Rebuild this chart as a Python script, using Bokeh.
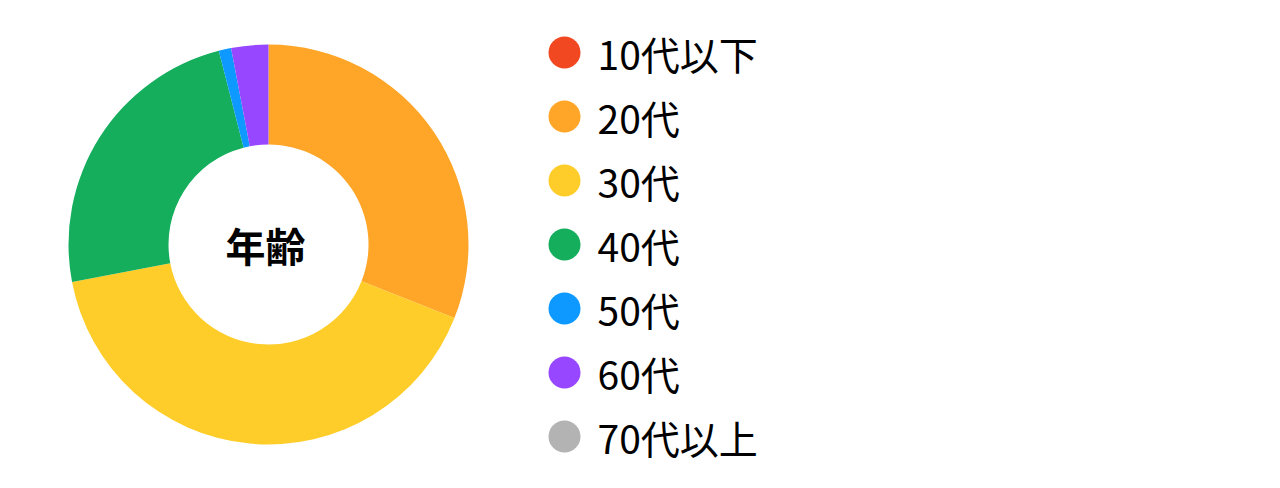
import math
from bokeh.plotting import figure
from bokeh.models import Range1d, ColumnDataSource
from bokeh.core.properties import value
from bokeh.embed import file_html
from bokeh.resources import INLINE

# ---- data ----
categories = ["10代以下", "20代", "30代", "40代", "50代", "60代", "70代以上"]
counts = [0, 31, 41, 24, 1, 3, 0]
colors = ["#F24822", "#FFA629", "#FFCD29", "#14AE5C", "#0D99FF", "#9747FF", "#B3B3B3"]
center_label = "年齢"

# ---- layout (pixels) ----
W, H = 1264, 472
FONT = "Noto Sans CJK JP"

p = figure(width=W, height=H, output_backend="svg", toolbar_location=None,
           x_range=Range1d(0, W), y_range=Range1d(488 - H, 488),
           min_border=0)
p.axis.visible = False
p.grid.visible = False
p.outline_line_color = None
p.background_fill_color = "white"
p.border_fill_color = "white"

def Y(img_y):
    return 488 - img_y

cx, cy = 268, Y(244)
total = sum(counts)
starts, ends, wcols = [], [], []
cum = 0
for c, col in zip(counts, colors):
    if c > 0:
        a0 = math.pi / 2 - 2 * math.pi * cum / total
        a1 = math.pi / 2 - 2 * math.pi * (cum + c) / total
        starts.append(a0)
        ends.append(a1)
        wcols.append(col)
    cum += c

src = ColumnDataSource(dict(x=[cx] * len(starts), y=[cy] * len(starts),
                            start=starts, end=ends, color=wcols))
p.annular_wedge(x="x", y="y", inner_radius=100, outer_radius=200,
                start_angle="start", end_angle="end", direction="clock",
                fill_color="color", line_color=None, source=src)

p.text(x=[cx - 3], y=[cy], text=[center_label], text_font=value(FONT),
       text_font_size="40px", text_font_style="bold", text_align="center",
       text_baseline="middle", text_color="#000000")

# legend
ly = [Y(52 + 64 * i) for i in range(len(categories))]
p.scatter(x=[564] * len(categories), y=ly, size=32, marker="circle",
          fill_color=colors, line_color=None)
p.text(x=[597] * len(categories), y=ly, text=categories, text_font=value(FONT),
       text_font_size="39px", text_align="left", text_baseline="middle",
       text_color="#000000")

open("out.html", "w").write(file_html(p, INLINE))
